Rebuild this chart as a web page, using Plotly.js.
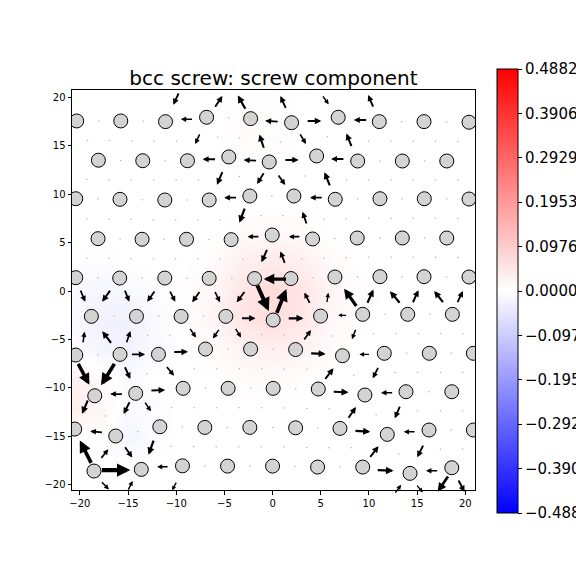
<!DOCTYPE html>
<html>
<head>
<meta charset="utf-8">
<script src="https://cdn.plot.ly/plotly-3.0.1.min.js"></script>
<style>html,body{margin:0;padding:0;background:#fff;}</style>
</head>
<body>
<div id="chart" style="width:576px;height:576px;"></div>
<script>
// ---------------- DATA ----------------
// atom column positions, row by row from top
const atomX = [
  -20.32,-15.75,-11.11,-6.85,-2.28,1.97,6.81,11.07,15.71,20.38,
  -18.07,-13.47,-8.83,-4.54,-0.35,4.57,8.83,13.46,18.07,
  -20.42,-15.83,-11.18,-6.58,-2.36,2.21,6.50,11.14,15.74,20.38,
  -18.11,-13.54,-8.93,-4.30,-0.04,4.15,8.78,13.46,18.07,
  -20.42,-15.86,-11.18,-6.58,-1.87,1.90,6.47,11.14,15.71,20.38,
  -18.80,-14.12,-9.49,-4.85,0.06,4.98,9.35,14.02,18.65,
  -20.42,-15.83,-11.84,-6.96,-2.28,2.39,7.25,11.59,16.26,20.83,
  -18.45,-14.20,-9.28,-4.61,0.06,4.74,9.58,13.84,18.59,
  -20.53,-16.27,-11.70,-7.03,-2.36,2.39,6.99,11.90,16.23,20.83,
  -18.53,-13.62,-9.35,-4.67,0.00,4.67,9.35,14.26,18.59
];
const atomY = [
  17.58,17.58,17.51,17.96,17.82,17.40,17.96,17.51,17.51,17.45,
  13.52,13.47,13.47,13.86,13.34,13.96,13.44,13.44,13.44,
  9.54,9.48,9.41,9.41,9.82,9.82,9.48,9.54,9.54,9.51,
  5.41,5.35,5.35,5.31,5.79,5.38,5.48,5.48,5.48,
  1.38,1.34,1.34,1.31,1.29,1.29,1.45,1.48,1.48,1.45,
  -2.62,-2.62,-2.62,-2.62,-3.00,-2.59,-2.41,-2.41,-2.41,
  -6.62,-6.55,-6.55,-6.00,-6.00,-6.05,-6.69,-6.44,-6.44,-6.44,
  -10.83,-10.58,-10.06,-10.06,-10.06,-10.13,-10.75,-10.41,-10.41,
  -14.27,-14.99,-14.03,-14.10,-14.10,-14.14,-14.20,-14.82,-14.37,-14.37,
  -18.61,-18.44,-18.07,-18.10,-18.10,-18.20,-18.20,-18.85,-18.27
];

// differential-displacement arrows: tail (arrowX, arrowY) and vector (arrowU, arrowV)
const arrowX = [
  -9.73,-5.99,-2.80,1.38,5.19,10.45,
  -8.31,0.58,3.59,9.76,
  -7.55,-0.90,2.83,8.20,
  -5.92,-1.66,1.28,7.40,
  -5.19,-0.90,0.58,5.95,
  -3.74,5.15,
  -2.88,3.53,
  -1.42,2.83,
  -0.56,1.28,
  1.45,
  -19.94,-16.82,-15.34,-12.22,-10.66,-7.55,-5.99,-2.88,-1.60,0.42,3.87,5.64,8.72,9.82,13.22,14.54,17.72,19.17,
  -3.22,1.62,7.68,
  -19.67,-16.72,-15.16,-8.59,-5.55,-3.86,3.25,8.63,
  -14.64,-10.25,3.95,10.05,
  -20.19,-16.38,-15.34,-11.01,5.43,10.97,
  -15.58,-12.62,6.29,12.46,
  -19.15,-14.82,-13.26,7.85,13.22,
  -17.65,8.55,14.78,
  -18.80,-17.80,-15.34,-12.33,10.10,15.64,
  -17.76,-10.84,10.86,17.13,
  -17.76,-14.99,-9.97,12.70,14.95,18.23,19.27
];
const arrowY = [
  20.48,19.00,18.79,18.89,20.17,19.00,
  17.76,17.51,17.58,17.68,
  16.24,14.76,16.24,14.92,
  13.62,13.47,13.55,13.65,
  12.34,12.23,12.00,10.86,
  9.65,9.65,
  8.58,6.93,
  5.62,5.62,
  4.31,2.86,
  1.24,
  0.10,0.10,0.10,0.00,0.00,-0.05,-0.05,-0.05,0.62,-2.31,-1.27,-1.19,-1.60,-1.27,-1.27,-1.21,-1.21,-1.21,
  -2.82,-2.82,-2.51,
  -5.35,-5.41,-5.35,-3.86,-3.96,-3.86,-5.07,-3.96,
  -6.55,-6.31,-6.44,-6.55,
  -7.48,-7.48,-7.83,-7.81,-9.13,-7.89,
  -10.65,-10.29,-10.41,-10.52,
  -11.27,-11.45,-11.48,-13.16,-11.89,
  -14.61,-14.45,-14.55,
  -17.82,-17.30,-16.10,-15.41,-17.20,-15.93,
  -18.51,-18.17,-18.51,-18.58,
  -19.72,-20.58,-19.75,-20.89,-20.06,-19.13,-19.54
];
const arrowU = [
  -0.62,0.86,-0.88,-0.62,0.69,-0.58,
  -1.32,-1.48,1.60,-1.45,
  -0.52,-0.52,0.70,-0.59,
  -1.45,-1.46,1.56,-1.45,
  -0.63,-0.76,0.80,-0.62,
  -1.39,-1.38,
  -0.62,-0.46,
  -1.28,-1.24,
  -0.65,-0.52,
  -2.59,
  0.55,-0.94,0.52,-0.86,0.62,-0.86,0.59,-0.93,1.32,1.10,-0.62,0.15,-1.42,0.70,-1.14,0.65,-1.04,0.62,
  1.59,1.73,-0.95,
  0.18,-1.04,0.45,0.70,-0.70,0.64,0.80,-0.43,
  1.54,1.61,1.69,-1.14,
  1.29,-1.55,0.63,0.86,0.97,-0.63,
  -1.39,1.61,1.74,-1.32,
  -0.68,-0.69,0.70,0.87,-0.59,
  -1.39,1.73,-1.28,
  -1.31,0.83,0.86,-0.59,0.97,-0.69,
  3.28,-1.25,1.84,-1.32,
  0.86,0.51,-0.49,0.70,0.69,-1.20,0.70
];
const arrowV = [
  -1.35,1.27,1.55,1.38,-0.94,1.37,
  0.00,0.10,0.00,0.00,
  -1.14,1.55,-1.14,1.49,
  0.00,0.08,0.00,0.00,
  -1.48,-1.27,-1.14,1.55,
  0.00,0.00,
  -1.65,1.37,
  0.00,0.00,
  -1.45,1.35,
  0.00,
  -1.31,-1.31,-1.31,-1.21,-1.21,-1.22,-1.22,-1.22,-2.93,2.75,1.20,1.09,2.01,1.55,1.37,1.42,1.31,1.31,
  0.00,0.00,0.00,
  1.24,1.38,1.32,-1.03,-1.03,-1.03,1.14,-1.11,
  0.00,0.03,-0.07,0.00,
  -2.42,-2.48,-1.37,-1.03,1.24,-1.24,
  0.00,0.06,-0.07,0.00,
  -1.55,-1.37,-1.03,1.27,-1.38,
  0.13,-0.10,0.00,
  2.59,1.03,-1.20,-1.65,1.27,-1.37,
  0.00,0.00,-0.07,0.00,
  -0.86,1.04,-0.93,0.93,-0.83,-1.76,-1.35
];

// screw component field, coarse grid
const gridX = [-21,-18,-15,-12,-9,-6,-3,0,3,6,9,12,15,18,21];
const gridY = [-21,-18,-15,-12,-9,-6,-3,0,3,6,9,12,15,18,21];
const screwZ = [
  [0,0,0,0,0,0,0,0,0,0,0,0,0,0,0],
  [0,0,0,0,0,0,0,0,0,0,0,0,0,0,0],
  [0,0.005,-0.02,-0.005,0,0,0,0,0,0,0,0,0,0,0],
  [0.035,0.02,-0.01,-0.005,0,0,0,0,0,0,0,0,0,0,0],
  [0.03,0.01,-0.01,0,0,0,0.008,0.01,0.005,0,0,0,0,0,0],
  [-0.005,-0.02,-0.025,-0.01,0,0.01,0.025,0.03,0.025,0.008,0,0,0,0,0],
  [-0.01,-0.025,-0.025,-0.01,0.005,0.02,0.05,0.065,0.045,0.015,0.003,0,0,0,0],
  [-0.01,-0.02,-0.015,-0.005,0.005,0.02,0.05,0.07,0.05,0.02,0.005,0,0,0,0],
  [0,-0.005,0,0,0,0.01,0.03,0.04,0.03,0.01,0,0,0,0,0],
  [0,0,0,0,0,0,0.01,0.015,0.01,0,0,0,0,0,0],
  [0,0,0,0,0,0,0,0,0,0,0,0,0,0,0],
  [0,0,0,0,0,0,0,0,0,0,0,0,0,0,0],
  [0,0,0,0,0,0,0.006,0.006,0,0,0,0,0,0,0],
  [0,0,0,0,0,0,0.008,0.006,0,0,0,0,0,0,0],
  [0,0,0,0,0,0,0,0,0,0,0,0,0,0,0]
];

const zLimit = 0.4882;
const cbTicks = [-0.4882,-0.3906,-0.2929,-0.1953,-0.0976,0,0.0976,0.1953,0.2929,0.3906,0.4882];

// ---------------- CHART ----------------
const xRange = [-20.81, 21.0];
const yRange = [-20.57, 20.78];
const M = {l:72, r:101, t:90, b:86};
const pxPerX = (576 - M.l - M.r) / (xRange[1] - xRange[0]);
const pxPerY = (576 - M.t - M.b) / (yRange[1] - yRange[0]);

const cbLabels = cbTicks.map(v => (v < 0 ? '\u2212' : '') + Math.abs(v).toFixed(4));

// faint dots at midpoints of neighbouring columns (near-zero arrows)
const dotX = [], dotY = [];
for (let i = 0; i < atomX.length; i++) {
  for (let j = i + 1; j < atomX.length; j++) {
    const d = Math.hypot(atomX[i] - atomX[j], atomY[i] - atomY[j]);
    if (d > 3.5 && d < 5.6) {
      dotX.push((atomX[i] + atomX[j]) / 2);
      dotY.push((atomY[i] + atomY[j]) / 2);
    }
  }
}

const headScale = 0.65;
const annotations = arrowX.map((x0, i) => {
  const y0 = arrowY[i], u = arrowU[i], v = arrowV[i];
  const L = Math.hypot(u * pxPerX, v * pxPerY);
  const w = Math.max(0.9, 0.13 * L);
  return {
    x: x0 + u, y: y0 + v, ax: x0, ay: y0,
    xref: 'x', yref: 'y', axref: 'x', ayref: 'y',
    text: '', showarrow: true, arrowhead: 2, arrowsize: headScale,
    arrowwidth: w, arrowcolor: '#000', standoff: w * headScale, borderpad: 0
  };
});

const traces = [
  {
    type: 'heatmap', x: gridX, y: gridY, z: screwZ, zsmooth: 'best',
    zmin: -zLimit, zmax: zLimit,
    colorscale: [[0, 'rgb(0,0,255)'], [0.5, 'rgb(255,255,255)'], [1, 'rgb(255,0,0)']],
    hoverinfo: 'skip',
    colorbar: {
      x: 1.0546, xanchor: 'left', xpad: 0, y: 0.4975, yanchor: 'middle', ypad: 0,
      len: 444, lenmode: 'pixels', thickness: 21, thicknessmode: 'pixels',
      outlinewidth: 1, outlinecolor: '#000',
      tickmode: 'array', tickvals: cbTicks, ticktext: cbLabels,
      ticks: 'outside', ticklen: 4, tickwidth: 1, tickcolor: '#000',
      tickfont: {size: 15, color: '#000', family: 'DejaVu Sans'}
    }
  },
  {
    type: 'scatter', mode: 'markers', x: dotX, y: dotY, hoverinfo: 'skip',
    marker: {size: 1.5, color: '#b4b4b4'}
  },
  {
    type: 'scatter', mode: 'markers', x: atomX, y: atomY, hoverinfo: 'skip',
    marker: {size: 14, color: '#d3d3d3', line: {color: '#000', width: 1}}
  }
];

const axisCommon = {
  tickmode: 'linear', tick0: 0, dtick: 5, ticks: 'outside', ticklen: 3.5, tickwidth: 1,
  tickcolor: '#000', showline: true, mirror: true, linecolor: '#000', linewidth: 1,
  showgrid: false, zeroline: false, tickfont: {size: 10, color: '#000'}
};

const layout = {
  width: 576, height: 576,
  margin: {l: M.l, r: M.r, t: M.t, b: M.b, pad: 0, autoexpand: false},
  paper_bgcolor: '#fff', plot_bgcolor: '#fff',
  font: {family: 'DejaVu Sans', color: '#000', size: 10},
  showlegend: false,
  title: {
    text: 'bcc screw: screw component', font: {size: 20, color: '#000'},
    x: 0.5, xref: 'paper', xanchor: 'center',
    y: 1 - 78 / 576, yref: 'container', yanchor: 'middle'
  },
  xaxis: Object.assign({range: xRange}, axisCommon),
  yaxis: Object.assign({range: yRange}, axisCommon),
  annotations: annotations
};

Plotly.newPlot('chart', traces, layout, {displayModeBar: false, staticPlot: true});
</script>
</body>
</html>
